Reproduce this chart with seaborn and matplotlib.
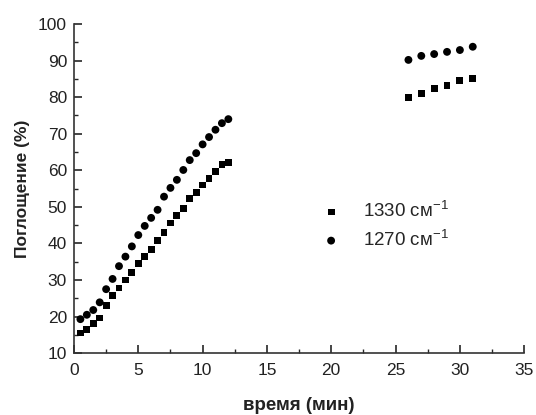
import numpy as np
import pandas as pd
import matplotlib
matplotlib.use("Agg")
import matplotlib.pyplot as plt
from matplotlib.ticker import MultipleLocator
import seaborn as sns

# --- data ---
time_min = [0.5, 1.0, 1.5, 2.0, 2.5, 3.0, 3.5, 4.0, 4.5, 5.0, 5.5, 6.0,
            6.5, 7.0, 7.5, 8.0, 8.5, 9.0, 9.5, 10.0, 10.5, 11.0, 11.5, 12.0,
            26, 27, 28, 29, 30, 31]
abs_1330 = [15.5, 16.5, 18.2, 19.6, 23.0, 25.8, 27.8, 30.0, 32.1, 34.5, 36.5, 38.3,
            40.9, 43.1, 45.6, 47.6, 49.6, 52.2, 54.0, 56.0, 57.8, 59.6, 61.5, 62.2,
            80.0, 81.0, 82.3, 83.3, 84.5, 85.2]
abs_1270 = [19.3, 20.5, 21.8, 23.9, 27.5, 30.3, 33.8, 36.4, 39.2, 42.3, 44.8, 47.0,
            49.2, 52.8, 55.2, 57.4, 60.1, 62.8, 64.7, 67.1, 69.1, 71.1, 72.9, 74.0,
            90.2, 91.3, 91.8, 92.4, 92.9, 93.8]
labels = ["1330 см$^{-1}$", "1270 см$^{-1}$"]

df = pd.concat([
    pd.DataFrame({"t": time_min, "a": abs_1330, "series": labels[0]}),
    pd.DataFrame({"t": time_min, "a": abs_1270, "series": labels[1]}),
])

sns.set_style("ticks")
plt.rcParams["font.family"] = ["Liberation Sans", "DejaVu Sans"]
plt.rcParams["mathtext.fontset"] = "custom"
plt.rcParams["mathtext.rm"] = "Liberation Sans"

fig = plt.figure(figsize=(5.36, 4.15), dpi=100)
ax = fig.add_axes([0.138, 0.149, 0.840, 0.793])

# squares and circles have slightly different sizes in the original
for lab, mk, sz in zip(labels, ["s", "o"], [24, 32]):
    sns.scatterplot(data=df[df["series"] == lab], x="t", y="a", marker=mk, s=sz,
                    color="black", edgecolor="none", label=lab, ax=ax)

ax.set_xlim(0, 35)
ax.set_ylim(10, 100)
ax.xaxis.set_major_locator(MultipleLocator(5))
ax.xaxis.set_minor_locator(MultipleLocator(2.5))
ax.yaxis.set_major_locator(MultipleLocator(10))
ax.yaxis.set_minor_locator(MultipleLocator(5))
ax.tick_params(which="major", direction="in", length=6, width=1.2, labelsize=12.5,
               labelcolor="#222222")
ax.tick_params(axis="x", which="major", pad=7)
ax.tick_params(axis="y", which="major", pad=5)
ax.tick_params(which="minor", direction="in", length=3, width=1.0)
for side in ["left", "bottom"]:
    ax.spines[side].set_linewidth(1.2)
    ax.spines[side].set_color("#333333")
sns.despine(ax=ax)

ax.set_xlabel("время (мин)", fontsize=13.5, fontweight="bold", labelpad=14,
              color="#222222")
ax.set_ylabel("Поглощение (%)", fontsize=12.5, fontweight="bold", labelpad=6,
              color="#222222")

ax.legend(loc="center left", bbox_to_anchor=(0.492, 0.39), frameon=False,
          fontsize=13.5, handletextpad=0.7, labelspacing=0.42, borderpad=0.4)

fig.savefig("out.png", dpi=100)
